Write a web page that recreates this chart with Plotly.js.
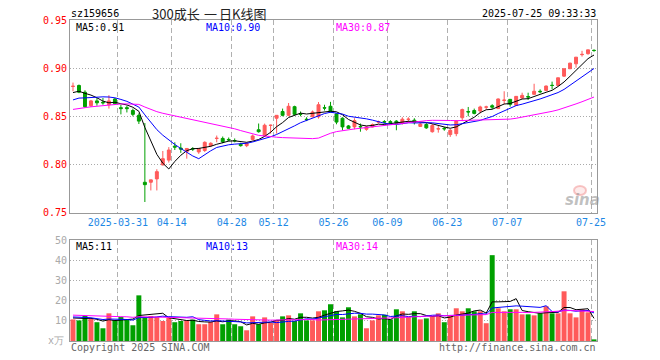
<!DOCTYPE html>
<html><head><meta charset="utf-8">
<script src="https://cdn.plot.ly/plotly-3.0.1.min.js"></script>
<style>html,body{margin:0;padding:0;background:#fff}</style>
</head><body><div id="chart" style="width:660px;height:360px"></div>
<script>
// ---- data ----
const dates = ['03-19','03-20','03-21','03-24','03-25','03-26','03-27','03-28','03-31',
 '04-01','04-02','04-03','04-07','04-08','04-09','04-10','04-11','04-14','04-15','04-16','04-17','04-18',
 '04-21','04-22','04-23','04-24','04-25','04-28','04-29','04-30',
 '05-06','05-07','05-08','05-09','05-12','05-13','05-14','05-15','05-16','05-19','05-20','05-21','05-22','05-23',
 '05-26','05-27','05-28','05-29','05-30',
 '06-03','06-04','06-05','06-06','06-09','06-10','06-11','06-12','06-13','06-16','06-17','06-18','06-19','06-20',
 '06-23','06-24','06-25','06-26','06-27','06-30',
 '07-01','07-02','07-03','07-04','07-07','07-08','07-09','07-10','07-11','07-14','07-15','07-16','07-17','07-18',
 '07-21','07-22','07-23','07-24','07-25'];

const openP = [0.881,0.882,0.875,0.861,0.866,0.8645,0.862,0.868,0.859,0.859,0.856,0.851,0.7815,0.7815,0.785,0.7995,0.8045,
 0.819,0.817,0.8135,0.8165,0.813,0.8145,0.8195,0.827,0.827,0.826,0.8248,0.821,0.8195,0.826,0.836,0.8296,0.8405,
 0.848,0.855,0.851,0.860,0.8525,0.847,0.8495,0.8495,0.859,0.8604,0.8525,0.848,0.840,0.839,0.8395,0.8365,0.839,
 0.844,0.8445,0.8445,0.845,0.8425,0.8468,0.846,0.8395,0.8415,0.834,0.8368,0.8375,0.831,0.832,0.8485,0.855,0.856,
 0.8555,0.8595,0.861,0.858,0.8665,0.8676,0.8614,0.869,0.8705,0.8728,0.876,0.8769,0.8822,0.882,0.8917,0.8994,
 0.9045,0.9140,0.915,0.9185];
const highP = [0.885,0.883,0.877,0.867,0.869,0.869,0.872,0.869,0.862,0.861,0.858,0.853,0.843,0.784,0.795,0.814,0.818,
 0.823,0.822,0.817,0.818,0.817,0.824,0.823,0.830,0.829,0.828,0.827,0.8225,0.823,0.831,0.8425,0.8424,0.8414,
 0.851,0.858,0.8638,0.861,0.855,0.849,0.856,0.8648,0.862,0.865,0.853,0.849,0.841,0.848,0.8425,0.840,0.8425,
 0.8455,0.846,0.846,0.846,0.849,0.849,0.848,0.843,0.843,0.842,0.840,0.839,0.837,0.846,0.858,0.8597,0.858,
 0.861,0.861,0.8625,0.8685,0.876,0.868,0.871,0.8745,0.8745,0.8838,0.878,0.882,0.886,0.890,0.8995,0.9056,
 0.9114,0.918,0.919,0.9195];
const lowP = [0.876,0.874,0.859,0.8596,0.861,0.862,0.858,0.862,0.852,0.854,0.850,0.842,0.761,0.773,0.773,0.799,0.802,
 0.815,0.812,0.806,0.814,0.811,0.813,0.818,0.823,0.822,0.824,0.823,0.8185,0.818,0.825,0.833,0.8285,0.832,
 0.832,0.850,0.850,0.851,0.850,0.845,0.849,0.8476,0.856,0.854,0.8417,0.8355,0.837,0.8365,0.834,0.835,0.8385,
 0.8425,0.8425,0.842,0.8355,0.8415,0.8435,0.8415,0.839,0.837,0.833,0.833,0.835,0.8286,0.8293,0.845,0.850,0.852,
 0.853,0.857,0.8575,0.858,0.8625,0.860,0.861,0.868,0.867,0.8725,0.874,0.876,0.878,0.8815,0.891,0.899,
 0.9004,0.912,0.914,0.917];
const closeP = [0.8812,0.875,0.860,0.866,0.864,0.864,0.866,0.863,0.858,0.858,0.852,0.845,0.779,0.784,0.7925,0.806,0.815,
 0.818,0.816,0.8166,0.816,0.8166,0.823,0.822,0.8272,0.8235,0.8255,0.8245,0.8195,0.822,0.8296,0.834,0.8407,0.8407,
 0.851,0.851,0.8604,0.852,0.852,0.8465,0.8545,0.862,0.8585,0.8545,0.844,0.839,0.8375,0.8455,0.839,0.839,0.8414,
 0.8442,0.844,0.8435,0.8425,0.847,0.847,0.8435,0.842,0.838,0.8405,0.837,0.837,0.8355,0.845,0.857,0.8545,0.853,
 0.8597,0.8597,0.8595,0.868,0.8668,0.8624,0.8707,0.8717,0.870,0.876,0.8755,0.8814,0.882,0.890,0.8994,0.9052,
 0.9114,0.9143,0.919,0.9183];
// volume, unit: 万
const volume = [10.7,10.2,12.4,11.1,9.3,6.3,13.7,10.2,11.9,10.6,7.8,22.6,11.9,12.4,11.9,9.9,11.4,9.3,9.9,10.2,10.6,
 8.3,8.3,9.4,13.2,8.3,10.6,8.3,7.3,5.3,12.2,8.3,11.7,8.9,10.2,12.2,12.7,9.9,13.7,10.2,10.2,14.7,15.2,18.2,
 14.7,11.7,16.7,12.2,13.2,6.3,10.2,12.7,13.0,10.7,15.7,14.7,11.9,14.7,10.7,11.2,12.2,13.7,9.3,12.7,16.2,14.7,
 16.2,14.7,14.7,8.8,42.5,16.2,14.7,15.7,15.7,13.2,13.2,12.7,13.7,17.2,13.7,13.7,24.6,13.7,11.7,15.7,14.2,0.8];
// estimated sessions before the window (needed for the moving averages at the left edge)
const priorClose = [0.838,0.842,0.840,0.843,0.841,0.842,0.848,0.852,0.855,0.858,0.856,0.860,0.862,0.859,0.857,
 0.855,0.858,0.861,0.860,0.857,0.856,0.858,0.860,0.861,0.862,0.868,0.871,0.875,0.878];
const priorVolume = [14.1,12.6,15.3,13.8,11.9,12.4,14.6,13.1,12.2,15.8,13.5,12.9,11.7,14.2,13.0,12.8,13.6,12.1,
 13.9,11.5,13.1,11.8,12.9,12.0,12.2,11.2,12.5,10.9,11.7];

const tickDates = ['03-31','04-14','04-28','05-12','05-26','06-09','06-23','07-07','07-25'];
const tickLabels = ['2025-03-31','04-14','04-28','05-12','05-26','06-09','06-23','07-07','07-25'];
const priceTicks = [0.75,0.80,0.85,0.90,0.95];
const volTicks = [10,20,30,40,50];

const titleCode = 'sz159656';
const titleParts = ['300成长','一','日K线图'];
const timeStamp = '2025-07-25 09:33:33';
const priceLegend = ['MA5:0.91','MA10:0.90','MA30:0.87'];
const volLegend = ['MA5:11','MA10:13','MA30:14'];

// ---- derived ----
const xs = dates.map((d,i)=>i);
function movingAvg(series, prior, n){
  const all = prior.concat(series);
  return series.map((_,i)=>{
    const end = prior.length + i; let s = 0;
    for(let k=end-n+1;k<=end;k++) s += all[k];
    return s/n;
  });
}
const UP='#ff5a5a', DOWN='#00a000';
const volColors = closeP.map((c,i)=> c>=openP[i] ? UP : DOWN);
const tickPos = tickDates.map(d => dates.indexOf(d) - 0.5);

const maColors = ['#000000','#0000ff','#ff00ff'];
const periods = [5,10,30];
const mono = 'DejaVu Sans Mono, monospace';
const cjk = 'Noto Sans CJK SC, sans-serif';

const traces = [{
  type:'candlestick', x:xs, open:openP, high:highP, low:lowP, close:closeP,
  xaxis:'x', yaxis:'y', hoverinfo:'skip', whiskerwidth:0,
  increasing:{line:{color:UP,width:1}, fillcolor:UP},
  decreasing:{line:{color:DOWN,width:1}, fillcolor:DOWN}
}];
periods.forEach((n,k)=>traces.push({type:'scatter',mode:'lines',x:xs,y:movingAvg(closeP,priorClose,n),
  xaxis:'x',yaxis:'y',line:{color:maColors[k],width:1},hoverinfo:'skip'}));
traces.push({type:'bar',x:xs,y:volume,xaxis:'x2',yaxis:'y2',marker:{color:volColors,line:{width:0}},hoverinfo:'skip'});
periods.forEach((n,k)=>traces.push({type:'scatter',mode:'lines',x:xs,y:movingAvg(volume,priorVolume,n),
  xaxis:'x2',yaxis:'y2',line:{color:maColors[k],width:1},hoverinfo:'skip'}));

const L=70, R=597, T=20, B=341;
const px = v => (v-L)/(R-L);
const py = v => (B-v)/(B-T);
function ann(text,x,y,color,xanchor,size,family){
  return {text:text,xref:'paper',yref:'paper',x:px(x),y:py(y),xanchor:xanchor||'left',yanchor:'middle',
    showarrow:false,font:{family:family||mono,size:size||10,color:color}};
}
const annotations = [
  ann(titleCode,69,13,'#000','left',10),
  ann(titleParts[0],150,13,'#222','left',13,cjk),
  ann(titleParts[1],210,13,'#222','center',13,cjk),
  ann(titleParts[2],268,13,'#222','right',13,cjk),
  ann(timeStamp,598,13,'#000','right',10),
  ann(priceLegend[0],74,27,maColors[0]),
  ann(priceLegend[1],204,27,maColors[1]),
  ann(priceLegend[2],334,27,maColors[2]),
  ann(volLegend[0],74,246,maColors[0]),
  ann(volLegend[1],204,246,maColors[1]),
  ann(volLegend[2],334,246,maColors[2]),
  ann('x万',66,340,'#aaa','right',10),
  ann('Copyright 2025 SINA.COM',69,347,'#666','left',10),
  ann('http://finance.sina.com.cn',598,347,'#666','right',10),
  {text:'<b><i>sina</i></b>',xref:'paper',yref:'paper',x:px(582),y:py(200),xanchor:'center',yanchor:'middle',
   showarrow:false,font:{family:'DejaVu Sans, sans-serif',size:15,color:'rgba(150,150,150,0.6)'}}
];
const shapes = [
  {type:'circle',xref:'paper',yref:'paper',x0:px(574),x1:px(586),y0:py(195),y1:py(186),
   line:{color:'rgba(240,130,130,0.45)',width:2},fillcolor:'rgba(250,190,190,0.3)'}
];

const gridX = {showgrid:true,gridcolor:'#b0b0b0',griddash:'5px,3px',gridwidth:1,
  showline:true,mirror:true,linecolor:'#999',linewidth:1,zeroline:false,ticks:'',
  range:[-0.5,dates.length-0.5],tickmode:'array',tickvals:tickPos,fixedrange:true};

const layout = {
  width:660,height:360,margin:{l:L,r:660-R,t:T,b:360-B},
  paper_bgcolor:'#fff',plot_bgcolor:'#fff',showlegend:false,bargap:0.17,boxgap:0.3,
  xaxis:Object.assign({},gridX,{anchor:'y',domain:[0,1],ticktext:tickLabels,showticklabels:true,
    tickfont:{family:mono,size:10,color:'#1e88e5'},rangeslider:{visible:false}}),
  xaxis2:Object.assign({},gridX,{anchor:'y2',domain:[0,1],ticktext:tickLabels,showticklabels:false}),
  yaxis:{domain:[0.4,1],range:[0.75,0.95],tickmode:'array',tickvals:priceTicks,tickformat:'.2f',
    showgrid:true,gridcolor:'#aaa',griddash:'1px,2px',showline:true,mirror:true,linecolor:'#999',
    zeroline:false,ticks:'',tickfont:{family:mono,size:10,color:'#ff0000'},fixedrange:true},
  yaxis2:{domain:[0,0.3146],range:[0,50],tickmode:'array',tickvals:volTicks,
    showgrid:true,gridcolor:'#aaa',griddash:'1px,2px',showline:true,mirror:true,linecolor:'#999',
    zeroline:false,ticks:'',tickfont:{family:mono,size:10,color:'#aaa'},fixedrange:true},
  annotations:annotations,shapes:shapes
};
Plotly.newPlot('chart',traces,layout,{staticPlot:true,displayModeBar:false});
</script></body></html>
